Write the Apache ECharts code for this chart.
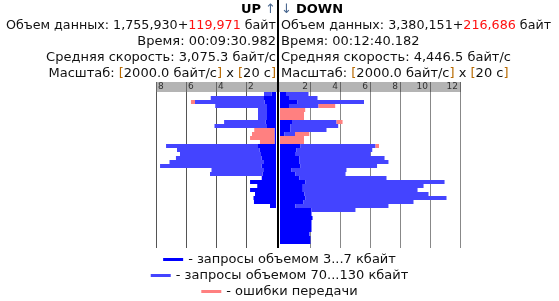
<!DOCTYPE html>
<html><head><meta charset="utf-8">
<script src="https://cdn.jsdelivr.net/npm/echarts@6/dist/echarts.min.js"></script>
<style>html,body{margin:0;padding:0;background:#fff}#c{width:559px;height:301px}</style>
</head><body><div id="c"></div>
<script>
// ---- data ----
const categories = ['0:00','0:20','0:40','1:00','1:20','1:40','2:00','2:20','2:40','3:00','3:20','3:40','4:00','4:20','4:40','5:00','5:20','5:40','6:00','6:20','6:40','7:00','7:20','7:40','8:00','8:20','8:40','9:00','9:20','9:40','10:00','10:20','10:40','11:00','11:20','11:40','12:00','12:20','12:40'];
const seriesNames = ['запросы объемом 3...7 кбайт','запросы объемом 70...130 кбайт','ошибки передачи'];
// UP (x 2000 байт/с)
const upSmall = [0.3,0.85,0.75,0.65,0.6,0.6,0.6,0.7,0.6,0.1,0.1,0.1,0.1,1.2,1.1,1.0,0.95,0.8,0.95,0.8,0.9,0.95,1.73,1.25,1.73,1.4,1.5,1.47,0.4];
const upLarge = [0.5,3.5,4.65,3.4,0.6,0.6,0.6,2.76,3.5,0,0,0,0,6.13,5.5,5.4,5.72,6.3,6.78,3.5,3.5,0,0,0,0,0,0,0,0];
const upErr   = [0,0,0.27,0,0,0,0,0,0,1.35,1.5,1.63,0.97,0,0,0,0,0,0,0,0,0,0,0,0,0,0,0,0];
// DOWN
const downSmall = [0.4,0.6,1.17,0.6,0,0,0,0.8,0.7,0.7,0.3,0,0,1.37,1.1,1.05,1.3,1.3,1.37,0.77,1.03,1.3,1.7,1.52,1.52,1.63,1.7,1.57,1.03,2.1,2.1,2.17,2.1,2.1,2.1,1.97,2.03,2.03];
const downLarge = [1.5,1.9,4.43,1.97,0,0,0,2.97,3.18,2.4,0.7,0,0,5.0,5.05,4.98,5.67,5.93,5.1,3.66,3.34,5.8,9.27,8.05,7.65,8.27,9.4,7.33,6.2,2.93,0,0,0,0,0,0,0,0];
const downErr   = [0,0,0,1.11,1.68,1.6,1.6,0.4,0,0,0.95,1.6,1.6,0.23,0,0,0,0,0,0,0,0,0,0,0,0,0,0,0,0,0,0,0,0,0,0,0,0];
const upTicks = [0,2,4,6,8];
const downTicks = [0,2,4,6,8,10,12];
const upLines = ['{b|UP} {ar|↑}','Объем данных: 1,755,930+{r|119,971} байт','Время: 00:09:30.982','Средняя скорость: 3,075.3 байт/с','Масштаб: {o|[}2000.0 байт/с{o|]} x {o|[}20 с{o|]}'];
const downLines = ['{ar|↓} {b|DOWN}','Объем данных: 3,380,151+{r|216,686} байт','Время: 00:12:40.182','Средняя скорость: 4,446.5 байт/с','Масштаб: {o|[}2000.0 байт/с{o|]} x {o|[}20 с{o|]}'];

// ---- chart ----
const FONT = 'DejaVu Sans';
const FS = 13;
const COLORS = ['#0000ff','#4444ff','#ff8080'];
function richFor(fs){
  return {
    b:{fontWeight:'bold',fontFamily:FONT,fontSize:fs,fill:'#000'},
    ar:{fontFamily:FONT,fontSize:fs,fill:'#4a6890'},
    r:{fontFamily:FONT,fontSize:fs,fill:'#ff1010'},
    o:{fontFamily:FONT,fontSize:fs,fill:'#b86a00'}
  };
}
const graphics = [
  {type:'rect',z:-1,silent:true,shape:{x:156,y:82,width:121,height:10},style:{fill:'#b4b4b4'}},
  {type:'rect',z:-1,silent:true,shape:{x:279,y:82,width:182,height:10},style:{fill:'#b4b4b4'}},
  {type:'rect',z:100,silent:true,shape:{x:277,y:0,width:2,height:248},style:{fill:'#000'}}
];
function addLines(lines, x, align){
  lines.forEach((t,i)=>{
    const fs = i===1 ? 12.7 : FS;
    graphics.push({type:'text',z:50,silent:true,style:{text:t,rich:richFor(fs),x,y:10+16*i,align,verticalAlign:'middle',font:fs+'px "DejaVu Sans"',fill:'#111'}});
  });
}
addLines(upLines,276,'right');
addLines(downLines,281,'left');

function xAx(gi, ticks, inverse, gridColor, align, pad){
  return {gridIndex:gi,type:'value',inverse,min:ticks[0],max:ticks[ticks.length-1],interval:ticks[1]-ticks[0],position:'top',
    axisLine:{show:false},
    axisTick:{show:true,length:10,lineStyle:{color:'#666'}},
    axisLabel:{showMinLabel:false,align,margin:1,fontSize:9,fontFamily:FONT,color:'#333',padding:pad},
    splitLine:{show:true,showMinLine:false,lineStyle:{color:gridColor,width:1}}};
}
function bar(name,data,color,gi){
  return {type:'bar',name,data,xAxisIndex:gi,yAxisIndex:gi,stack:gi?'down':'up',barWidth:4,itemStyle:{color},silent:true};
}
function leg(name,top){
  return {data:[name],top,left:'center',icon:'rect',itemWidth:20,itemHeight:3,padding:0,selectedMode:false,
    formatter:n=>'- '+n,textStyle:{fontFamily:FONT,fontSize:FS,color:'#111'}};
}
const option = {
  animation:false,
  grid:[{left:156,top:92,width:120,height:156},{left:280,top:92,width:180,height:156}],
  xAxis:[xAx(0,upTicks,true,'#555','left',[0,0,0,2]),xAx(1,downTicks,false,'#888','right',[0,2,0,0])],
  yAxis:[{gridIndex:0,type:'category',data:categories,inverse:true,show:false},
         {gridIndex:1,type:'category',data:categories,inverse:true,show:false}],
  legend:[leg(seriesNames[0],253),leg(seriesNames[1],269),leg(seriesNames[2],285)],
  graphic:graphics,
  series:[
    bar(seriesNames[0],upSmall,COLORS[0],0),bar(seriesNames[1],upLarge,COLORS[1],0),bar(seriesNames[2],upErr,COLORS[2],0),
    bar(seriesNames[0],downSmall,COLORS[0],1),bar(seriesNames[1],downLarge,COLORS[1],1),bar(seriesNames[2],downErr,COLORS[2],1)
  ]
};
const chart = echarts.init(document.getElementById('c'));
chart.setOption(option);
</script></body></html>
